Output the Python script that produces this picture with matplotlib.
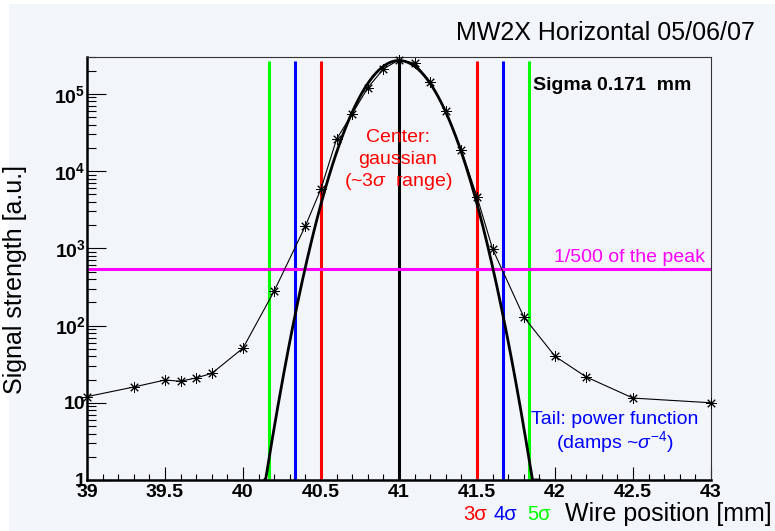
import numpy as np
import matplotlib.pyplot as plt
from matplotlib.patches import Rectangle
from matplotlib.ticker import FixedLocator, MultipleLocator, LogLocator, NullFormatter

plt.rcParams['font.family'] = ['Liberation Sans', 'DejaVu Sans']
plt.rcParams['mathtext.fontset'] = 'custom'
plt.rcParams['mathtext.rm'] = 'Liberation Sans'
plt.rcParams['mathtext.it'] = 'Liberation Sans:italic'
plt.rcParams['mathtext.bf'] = 'Liberation Sans:bold'

# wire scan, MW2X horizontal
wire_pos = [39.0, 39.3, 39.5, 39.6, 39.7, 39.8, 40.0, 40.2, 40.4, 40.5, 40.6,
            40.7, 40.8, 40.9, 41.0, 41.1, 41.2, 41.3, 41.4, 41.5, 41.6, 41.8,
            42.0, 42.2, 42.5, 43.0]
signal = [12, 16, 19.7, 19, 21, 24, 51, 280, 1950, 5900, 26000,
          55000, 120000, 210000, 275000, 250000, 143000, 60000, 18700, 4650, 980, 129,
          40, 21.6, 11.5, 10]

# gaussian fit of the core
fit_amp = 2.7e5
fit_mean = 41.0
fit_sigma = 0.171
fit_range = (40.14, 41.9)

# n-sigma marker lines (drawn spacing)
line_sigma = 0.1667
n_sigmas = [3, 4, 5]
sigma_colors = ['#ff0000', '#0000ff', '#00ff00']

y_ticks = [1, 10, 1e2, 1e3, 1e4, 1e5]
y_labels = ['1', '10', r'$\mathbf{10^{2}}$', r'$\mathbf{10^{3}}$',
            r'$\mathbf{10^{4}}$', r'$\mathbf{10^{5}}$']

bg = '#f2f6fa'
W, H = 775, 531
fig = plt.figure(figsize=(W / 100, H / 100), dpi=100, facecolor='white')
fig.patches.append(Rectangle((9 / W, 0), 1 - 9 / W, 527 / H, transform=fig.transFigure,
                             facecolor=bg, edgecolor='none', zorder=-10))

x0, x1, ytop, ybot = 87, 711, 57, 480
ax = fig.add_axes([x0 / W, 1 - ybot / H, (x1 - x0) / W, (ybot - ytop) / H])
ax.set_facecolor(bg)
ax.set_yscale('log')
ax.set_xlim(39, 43)
ax.set_ylim(1, 3e5)

peak = fit_amp
for k, c in zip(n_sigmas, sigma_colors):
    for s in (-1, 1):
        ax.vlines(fit_mean + s * k * line_sigma, 1, peak, color=c, lw=2.2, zorder=2)
ax.vlines(fit_mean, 1, peak, color='black', lw=2.2, zorder=2)
ax.axhline(peak / 500, color='#ff00ff', lw=2.2, zorder=2)

xf = np.linspace(fit_range[0], fit_range[1], 400)
yf = fit_amp * np.exp(-0.5 * ((xf - fit_mean) / fit_sigma) ** 2)
ax.plot(xf, np.clip(yf, 1, None), color='black', lw=2.0, zorder=3)

ax.plot(wire_pos, signal, color='black', lw=0.8, marker=(8, 2, 0), ms=7.5,
        mew=0.7, zorder=4, clip_on=False)

# ticks, ROOT style
ax.yaxis.set_major_locator(FixedLocator(y_ticks))
ax.set_yticklabels(y_labels)
ax.yaxis.set_minor_locator(LogLocator(base=10, subs=np.arange(2, 10)))
ax.yaxis.set_minor_formatter(NullFormatter())
ax.xaxis.set_major_locator(MultipleLocator(0.5))
ax.xaxis.set_minor_locator(MultipleLocator(0.1))
ax.xaxis.set_major_formatter(plt.FuncFormatter(lambda v, p: '%g' % v))
ax.tick_params(axis='both', which='both', direction='in', top=False, right=False,
               width=0.8, color='black')
ax.tick_params(axis='y', which='major', length=13.5, pad=1)
ax.tick_params(axis='y', which='minor', length=6.5)
ax.tick_params(axis='x', which='major', length=9.5, pad=3)
ax.tick_params(axis='x', which='minor', length=4.5)
for lab in ax.get_xticklabels() + ax.get_yticklabels():
    lab.set_fontsize(14)
    lab.set_fontweight('bold')

for side in ('left', 'bottom'):
    ax.spines[side].set_linewidth(1.8)
for side in ('top', 'right'):
    ax.spines[side].set_linewidth(0.8)
    ax.spines[side].set_color('#333333')

ax.set_ylabel('Signal strength [a.u.]', fontsize=18)
ax.yaxis.set_label_coords((27 - x0) / (x1 - x0), (ybot - 280) / (ybot - ytop))

# annotations
def ax_xy(px, py):
    return (px - x0) / (x1 - x0), (ybot - py) / (ybot - ytop)

ax.text(*ax_xy(533, 86), 'Sigma 0.171  mm', transform=ax.transAxes, fontsize=14,
        fontweight='bold', ha='left', va='center', zorder=5)
for txt, py in zip(['Center:', 'gaussian', r'(~3$\sigma$  range)'], [138, 160, 182]):
    ax.text(*ax_xy(398, py), txt, transform=ax.transAxes, fontsize=14, color='#ff0000',
            ha='center', va='center', zorder=5)
ax.text(*ax_xy(630, 258), '1/500 of the peak', transform=ax.transAxes, fontsize=14,
        color='#ff00ff', ha='center', va='center', zorder=5)
for txt, py in zip(['Tail: power function', r'(damps ~$\sigma^{-4}$)'], [420, 442]):
    ax.text(*ax_xy(615, py), txt, transform=ax.transAxes, fontsize=14, color='#0000ff',
            ha='center', va='center', zorder=5)

fig.text(755 / W, 1 - 33 / H, 'MW2X Horizontal 05/06/07', fontsize=18,
         ha='right', va='center')

# x label with sigma colour key
for txt, c, px in zip(['3σ', '4σ', '5σ'], sigma_colors, [463, 494, 527]):
    fig.text(px / W, 1 - 515 / H, txt, fontsize=14.5, color=c, ha='left', va='center')
fig.text(772 / W, 1 - 514 / H, 'Wire position [mm]', fontsize=18, ha='right', va='center')

fig.savefig('out.png', dpi=100, facecolor=fig.get_facecolor())
